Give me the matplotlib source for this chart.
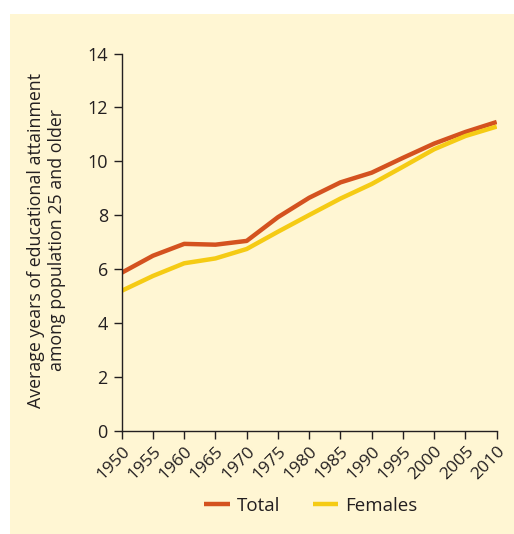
import matplotlib
matplotlib.use("Agg")
import matplotlib.pyplot as plt
from matplotlib.patches import Rectangle

years = [1950, 1955, 1960, 1965, 1970, 1975, 1980, 1985, 1990, 1995, 2000, 2005, 2010]
total = [5.87, 6.50, 6.94, 6.91, 7.05, 7.93, 8.65, 9.22, 9.58, 10.13, 10.66, 11.09, 11.46]
females = [5.20, 5.75, 6.22, 6.40, 6.75, 7.39, 8.01, 8.62, 9.16, 9.80, 10.45, 10.94, 11.29]
yticks = [0, 2, 4, 6, 8, 10, 12, 14]
ylabel = "Average years of educational attainment\namong population 25 and older"

BG = "#FFF6D3"
TXT = "#231F20"
C_TOTAL = "#D4521F"
C_FEM = "#F5CB14"

plt.rcParams['font.family'] = ['Open Sans', 'DejaVu Sans']

W, H = 514, 534
fig = plt.figure(figsize=(W / 100, H / 100), dpi=100)
fig.patch.set_facecolor("white")
bg = Rectangle((10 / W, 0), 1 - 10 / W, 1 - 14 / H,
               transform=fig.transFigure, facecolor=BG,
               edgecolor="none", zorder=-10)
fig.patches.append(bg)

x0, x1 = 121.7, 496.7
y0, y1 = 431, 53.5
ax = fig.add_axes([x0 / W, 1 - y0 / H, (x1 - x0) / W, (y0 - y1) / H])
ax.set_zorder(1)
ax.set_facecolor("none")

ax.plot(years, total, color=C_TOTAL, lw=3.2, label="Total", solid_capstyle="butt")
ax.plot(years, females, color=C_FEM, lw=3.2, label="Females", solid_capstyle="butt")

ax.set_xlim(1950, 2010)
ax.set_ylim(0, 14)
ax.set_xticks(years)
ax.set_xticklabels([str(y) for y in years], rotation=45, ha="right",
                   rotation_mode="anchor", fontsize=12.5, color=TXT)
ax.set_yticks(yticks)
ax.set_yticklabels([str(v) for v in yticks], fontsize=13, color=TXT)
for s in ["top", "right"]:
    ax.spines[s].set_visible(False)
for s in ["left", "bottom"]:
    ax.spines[s].set_color(TXT)
    ax.spines[s].set_linewidth(1.0)
ax.tick_params(axis="both", direction="out", length=6, width=1.0, color=TXT)
ax.tick_params(axis="y", pad=4)
ax.tick_params(axis="x", pad=3)

fig.text(46.5 / W, 1 - 240 / H, ylabel, rotation=90, ha="center", va="center",
         multialignment="center", fontsize=12.8, color=TXT, linespacing=1.25)

leg = fig.legend(loc="center", bbox_to_anchor=(311 / W, 1 - 506 / H), ncol=2,
                 frameon=False, fontsize=13.5, handlelength=1.35,
                 columnspacing=1.7, handletextpad=0.4, labelcolor=TXT)

fig.savefig("out.png", dpi=100, facecolor=fig.get_facecolor())
